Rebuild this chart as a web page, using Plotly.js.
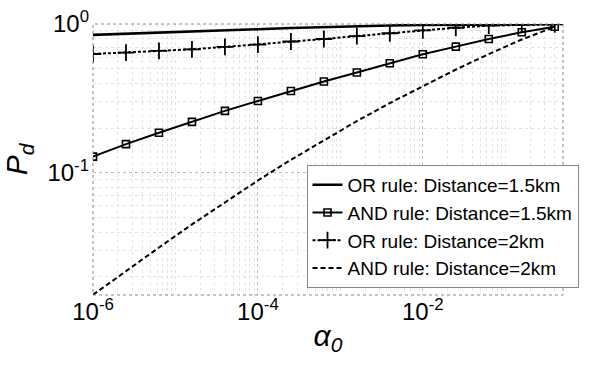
<!DOCTYPE html>
<html>
<head>
<meta charset="utf-8">
<script src="https://cdn.plot.ly/plotly-3.0.1.min.js"></script>
<style>html,body{margin:0;padding:0;background:#fff;}#chart{width:591px;height:368px;}</style>
</head>
<body>
<div id="chart"></div>
<script>
// false-alarm probability alpha_0 (x values)
var alpha0 = [1e-6, 2.512e-6, 6.31e-6, 1.585e-5, 3.981e-5, 1e-4, 2.512e-4, 6.31e-4, 1.585e-3, 3.981e-3, 1e-2, 2.512e-2, 6.31e-2, 0.1585, 0.3981];
// detection probability P_d for each rule/distance
var orRule15km  = [0.845, 0.858, 0.872, 0.887, 0.905, 0.922, 0.940, 0.955, 0.968, 0.978, 0.986, 0.991, 0.995, 0.998, 0.999];
var andRule15km = [0.1286, 0.156, 0.186, 0.220, 0.261, 0.304, 0.355, 0.411, 0.472, 0.545, 0.626, 0.705, 0.793, 0.880, 0.959];
var orRule2km   = [0.629, 0.642, 0.659, 0.676, 0.701, 0.728, 0.763, 0.793, 0.830, 0.867, 0.907, 0.944, 0.975, 0.989, 0.995];
var andRule2km  = [0.01517, 0.02193, 0.03155, 0.04508, 0.06368, 0.08892, 0.1225, 0.1663, 0.2228, 0.2944, 0.3837, 0.4943, 0.6281, 0.7870, 0.957];
var seriesNames = ["OR rule: Distance=1.5km", "AND rule: Distance=1.5km", "OR rule: Distance=2km", "AND rule: Distance=2km"];
// tick positions and labels
var xTickVals = [1e-6, 1e-4, 1e-2];
var xTickText = ["10<sup>-6</sup>", "10<sup>-4</sup>", "10<sup>-2</sup>"];
var yTickVals = [0.1, 1];
var yTickText = ["10<sup>-1</sup>", "10<sup>0</sup>"];

var traces = [
  {x: alpha0, y: orRule15km, name: seriesNames[0], mode: "lines",
   line: {color: "#000", width: 2.6}},
  {x: alpha0, y: andRule15km, name: seriesNames[1], mode: "lines+markers",
   line: {color: "#000", width: 2},
   marker: {symbol: "square-open", size: 7, color: "#000", line: {width: 1.6, color: "#000"}}},
  {x: alpha0, y: orRule2km, name: seriesNames[2], mode: "lines+markers",
   line: {color: "#000", width: 2, dash: "3px,2px"},
   marker: {symbol: "cross-thin-open", size: 12, color: "#000", line: {width: 1.8, color: "#000"}}},
  {x: alpha0, y: andRule2km, name: seriesNames[3], mode: "lines",
   line: {color: "#000", width: 2, dash: "5px,3px"}}
];

var gridStyle = {gridcolor: "#bdbdbd", griddash: "dot", gridwidth: 1};
var layout = {
  width: 591, height: 368,
  margin: {l: 93, r: 15, t: 24, b: 73},
  paper_bgcolor: "#fff", plot_bgcolor: "#fff",
  font: {family: "Liberation Sans, Arial, sans-serif", color: "#000"},
  showlegend: true,
  xaxis: Object.assign({
    type: "log", range: [-6, -0.3], tickmode: "array", tickvals: xTickVals, ticktext: xTickText,
    showgrid: true, zeroline: false, showline: false, ticks: "",
    tickfont: {size: 24, color: "#000"}, ticklabelstandoff: 0,
    minor: {dtick: "D1", showgrid: true, gridcolor: "#e4e4e4", griddash: "dot", ticks: ""},
    title: {text: "<i>α<sub>0</sub></i>", font: {size: 30, color: "#000"}, standoff: 0}
  }, gridStyle),
  yaxis: Object.assign({
    type: "log", range: [-1.82, 0], tickmode: "array", tickvals: yTickVals, ticktext: yTickText,
    showgrid: true, zeroline: false, showline: false, ticks: "",
    tickfont: {size: 24, color: "#000"}, ticklabelstandoff: 3,
    minor: {dtick: "D1", showgrid: true, gridcolor: "#e4e4e4", griddash: "dot", ticks: ""},
    title: {text: "<i>P<sub>d</sub></i>", font: {size: 30, color: "#000"}, standoff: 10}
  }, gridStyle),
  legend: {
    x: 1.033, xanchor: "right", y: 0.026, yanchor: "bottom",
    bgcolor: "#fff", bordercolor: "#888", borderwidth: 1,
    font: {size: 19, color: "#000"}, itemwidth: 30, tracegroupgap: 0
  },
  shapes: [{type: "rect", xref: "paper", yref: "paper", x0: 0, x1: 1, y0: 0, y1: 1,
            line: {color: "#888", width: 1, dash: "dot"}, layer: "above"}]
};

Plotly.newPlot("chart", traces, layout, {staticPlot: true, displayModeBar: false});
</script>
</body>
</html>
